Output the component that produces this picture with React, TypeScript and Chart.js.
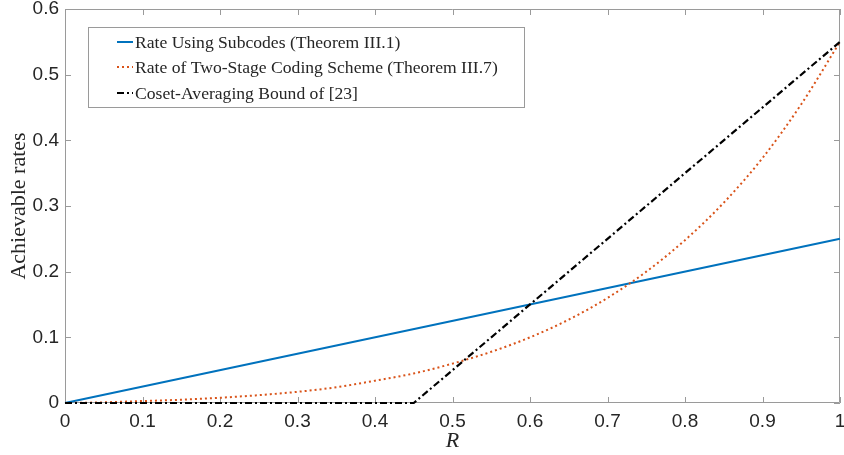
import React, { useEffect, useRef } from 'react';
import { Chart, registerables } from 'chart.js';

Chart.register(...registerables);

// ---- data ----
const subcodeR = [0, 1];
const subcodeRate = [0, 0.25];

const twoStageR = [0, 0.05, 0.1, 0.15, 0.2, 0.25, 0.3, 0.35, 0.4, 0.45, 0.5, 0.55, 0.6, 0.65, 0.7, 0.75, 0.8, 0.85, 0.9, 0.95, 1];
const twoStageRate = [0, 0.001, 0.003, 0.005, 0.008, 0.012, 0.017, 0.024, 0.034, 0.045, 0.06, 0.078, 0.1, 0.127, 0.16, 0.2, 0.248, 0.305, 0.373, 0.455, 0.55];

const cosetR = [0, 0.45, 1];
const cosetRate = [0, 0, 0.55];

const xTicks = [0, 0.1, 0.2, 0.3, 0.4, 0.5, 0.6, 0.7, 0.8, 0.9, 1];
const yTicks = [0, 0.1, 0.2, 0.3, 0.4, 0.5, 0.6];

const seriesLabels = [
  'Rate Using Subcodes (Theorem III.1)',
  'Rate of Two-Stage Coding Scheme (Theorem III.7)',
  'Coset-Averaging Bound of [23]',
];
const seriesColors = ['#0072BD', '#D95319', '#000000'];
const seriesDashes: number[][] = [[], [2, 3], [7, 3, 2, 3]];

const xTitle = 'R';
const yTitle = 'Achievable rates';

const toPoints = (xs: number[], ys: number[]) => xs.map((x, i) => ({ x, y: ys[i] }));

const AXIS_COLOR = '#9a9a9a';
const TEXT_COLOR = '#262626';

const boxPlugin = {
  id: 'matlabBox',
  beforeDatasetsDraw(chart: any) {
    const { ctx, chartArea } = chart;
    const { left, right, top, bottom } = chartArea;
    const xs = chart.scales.x;
    const ys = chart.scales.y;
    ctx.save();
    ctx.strokeStyle = AXIS_COLOR;
    ctx.lineWidth = 1;
    ctx.beginPath();
    ctx.rect(left + 0.5, top + 0.5, right - left - 1, bottom - top - 1);
    ctx.stroke();
    const tl = 6;
    ctx.beginPath();
    xTicks.forEach((t) => {
      const px = Math.round(xs.getPixelForValue(t)) + 0.5;
      ctx.moveTo(px, bottom);
      ctx.lineTo(px, bottom - tl);
      ctx.moveTo(px, top);
      ctx.lineTo(px, top + tl);
    });
    yTicks.forEach((t) => {
      const py = Math.round(ys.getPixelForValue(t)) + 0.5;
      ctx.moveTo(left, py);
      ctx.lineTo(left + tl, py);
      ctx.moveTo(right, py);
      ctx.lineTo(right - tl, py);
    });
    ctx.stroke();
    ctx.restore();
  },
  afterDraw(chart: any) {
    const { ctx, chartArea } = chart;
    const { left, right, top, bottom } = chartArea;
    ctx.save();
    // axis titles
    ctx.fillStyle = TEXT_COLOR;
    ctx.font = 'italic 22px "Liberation Serif"';
    ctx.textAlign = 'center';
    ctx.textBaseline = 'middle';
    ctx.fillText(xTitle, (left + right) / 2, 441);
    ctx.save();
    ctx.translate(19, (top + bottom) / 2);
    ctx.rotate(-Math.PI / 2);
    ctx.font = '22px "Liberation Serif"';
    ctx.fillText(yTitle, 0, 0);
    ctx.restore();

    // legend
    const bx = 88.5, by = 27.5, bw = 436, bh = 80;
    ctx.fillStyle = '#ffffff';
    ctx.fillRect(bx, by, bw, bh);
    ctx.strokeStyle = AXIS_COLOR;
    ctx.lineWidth = 1;
    ctx.strokeRect(bx, by, bw, bh);
    const rows = [42, 67, 93];
    seriesLabels.forEach((lab, i) => {
      const y = rows[i];
      ctx.beginPath();
      ctx.strokeStyle = seriesColors[i];
      ctx.lineWidth = 2;
      ctx.setLineDash(seriesDashes[i]);
      ctx.moveTo(117, y);
      ctx.lineTo(133, y);
      ctx.stroke();
      ctx.setLineDash([]);
      ctx.fillStyle = TEXT_COLOR;
      ctx.font = '17.6px "Liberation Serif"';
      ctx.textAlign = 'left';
      ctx.textBaseline = 'middle';
      ctx.fillText(lab, 135, y + 1);
    });
    ctx.restore();
  },
};

export default function App() {
  const ref = useRef<HTMLCanvasElement | null>(null);

  useEffect(() => {
    if (!ref.current) return;
    const tickFont = { family: '"Liberation Sans", Arial, sans-serif', size: 19 };
    const chart = new Chart(ref.current, {
      type: 'line',
      data: {
        datasets: [
          {
            label: seriesLabels[0],
            data: toPoints(subcodeR, subcodeRate),
            borderColor: seriesColors[0],
            borderWidth: 2,
            pointRadius: 0,
            clip: 3,
            order: 3,
          },
          {
            label: seriesLabels[1],
            data: toPoints(twoStageR, twoStageRate),
            borderColor: seriesColors[1],
            borderWidth: 2,
            borderDash: seriesDashes[1],
            pointRadius: 0,
            cubicInterpolationMode: 'monotone',
            clip: 3,
            order: 2,
          },
          {
            label: seriesLabels[2],
            data: toPoints(cosetR, cosetRate),
            borderColor: seriesColors[2],
            borderWidth: 2.2,
            borderDash: seriesDashes[2],
            pointRadius: 0,
            clip: 3,
            order: 1,
          },
        ],
      },
      options: {
        responsive: false,
        animation: false,
        devicePixelRatio: 1,
        layout: { padding: { top: 9, right: 4, left: 0, bottom: 0 } },
        plugins: { legend: { display: false }, tooltip: { enabled: false } },
        scales: {
          x: {
            type: 'linear',
            min: 0,
            max: 1,
            grid: { display: false, drawTicks: false },
            border: { display: false },
            afterBuildTicks: (s: any) => {
              s.ticks = xTicks.map((v) => ({ value: v }));
            },
            afterFit: (s: any) => {
              s.height = 52;
              s.paddingLeft = 0;
              s.paddingRight = 0;
            },
            ticks: {
              padding: 7,
              color: TEXT_COLOR,
              font: tickFont,
              maxRotation: 0,
              autoSkip: false,
              callback: (v: any) => String(Number(Number(v).toFixed(1))),
            },
          },
          y: {
            type: 'linear',
            min: 0,
            max: 0.6,
            grid: { display: false, drawTicks: false },
            border: { display: false },
            afterBuildTicks: (s: any) => {
              s.ticks = yTicks.map((v) => ({ value: v }));
            },
            afterFit: (s: any) => {
              s.width = 65;
              s.paddingTop = 0;
              s.paddingBottom = 0;
            },
            ticks: {
              padding: 6,
              color: TEXT_COLOR,
              font: tickFont,
              autoSkip: false,
              callback: (v: any) => String(Number(Number(v).toFixed(1))),
            },
          },
        },
      },
      plugins: [boxPlugin],
    } as any);
    return () => chart.destroy();
  }, []);

  return (
    <div style={{ position: 'absolute', left: 0, top: 0, width: 844, height: 455, background: '#fff' }}>
      <canvas ref={ref} width={844} height={455} style={{ display: 'block', width: 844, height: 455 }} />
    </div>
  );
}
